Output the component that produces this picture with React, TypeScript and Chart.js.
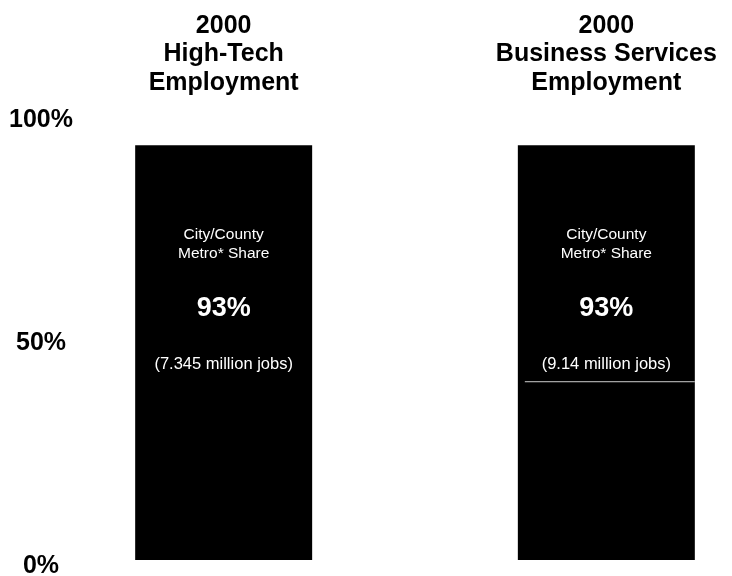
import React, { useEffect, useRef } from "react";
import { Chart, registerables } from "chart.js";

Chart.register(...registerables);

// ---- data ----
const categories: string[][] = [
  ["2000", "High-Tech", "Employment"],
  ["2000", "Business Services", "Employment"],
];
const shareValues: number[] = [93, 93];
const shareLabels: string[] = ["93%", "93%"];
const jobsLabels: string[] = ["(7.345 million jobs)", "(9.14 million jobs)"];
const innerTitle: string[] = ["City/County", "Metro* Share"];
const yTickValues: number[] = [0, 50, 100];
const showDivider: boolean[] = [false, true];

const FONT = "'Liberation Sans', Arial, Helvetica, sans-serif";

export default function App() {
  const ref = useRef<HTMLCanvasElement | null>(null);

  useEffect(() => {
    if (!ref.current) return;
    // build labels with a spacer category between the two bars
    const labels: (string | string[])[] = [categories[0], "", categories[1]];
    const values: (number | null)[] = [shareValues[0], null, shareValues[1]];
    const barIndexToSeries: Record<number, number> = { 0: 0, 2: 1 };

    const textPlugin = {
      id: "barText",
      afterDatasetsDraw(chart: any) {
        const ctx = chart.ctx;
        const meta = chart.getDatasetMeta(0);
        meta.data.forEach((el: any, i: number) => {
          const s = barIndexToSeries[i];
          if (s === undefined) return;
          const { x, y, width } = el.getProps(["x", "y", "width"], true);
          ctx.save();
          ctx.fillStyle = "#ffffff";
          ctx.textAlign = "center";
          ctx.textBaseline = "middle";
          ctx.font = `15.5px ${FONT}`;
          ctx.fillText(innerTitle[0], x, y + 89);
          ctx.fillText(innerTitle[1], x, y + 108);
          ctx.font = `bold 27px ${FONT}`;
          ctx.fillText(shareLabels[s], x, y + 163);
          ctx.font = `16.5px ${FONT}`;
          ctx.fillText(jobsLabels[s], x, y + 219);
          if (showDivider[s]) {
            ctx.strokeStyle = "#cfcfcf";
            ctx.lineWidth = 1;
            ctx.beginPath();
            ctx.moveTo(x - width / 2 + 7, y + 236.5);
            ctx.lineTo(x + width / 2, y + 236.5);
            ctx.stroke();
          }
          ctx.restore();
        });
      },
    };

    const chart = new Chart(ref.current, {
      type: "bar",
      data: {
        labels,
        datasets: [
          {
            data: values,
            backgroundColor: "#000000",
            borderWidth: 0,
            barPercentage: 0.925,
            categoryPercentage: 1,
          },
        ],
      },
      options: {
        animation: false,
        responsive: false,
        devicePixelRatio: 1,
        layout: { padding: { left: 0, right: 30, top: 0, bottom: 16 } },
        plugins: {
          legend: { display: false },
          tooltip: { enabled: false },
        },
        scales: {
          x: {
            position: "top",
            offset: true,
            grid: { display: false, drawTicks: false },
            border: { display: false },
            ticks: {
              color: "#000000",
              font: { family: FONT, size: 25, weight: "bold", lineHeight: 1.14 },
              padding: 17,
              autoSkip: false,
              maxRotation: 0,
              minRotation: 0,
            },
            afterFit(scale: any) {
              scale.height = 114;
              scale.paddingLeft = 0;
              scale.paddingRight = 0;
            },
          },
          y: {
            min: 0,
            max: 100,
            grid: { display: false, drawTicks: false },
            border: { display: false },
            afterBuildTicks(scale: any) {
              scale.ticks = yTickValues.map((v) => ({ value: v }));
            },
            ticks: {
              color: "#000000",
              font: { family: FONT, size: 25, weight: "bold" },
              crossAlign: "center",
              padding: 55,
              labelOffset: 6,
              callback: (v: any) => `${v}%`,
            },
            afterFit(scale: any) {
              scale.width = 128;
              scale.paddingTop = 0;
              scale.paddingBottom = 0;
            },
          },
        },
      },
      plugins: [textPlugin],
    });
    return () => chart.destroy();
  }, []);

  return (
    <div style={{ position: "absolute", left: 0, top: 0, width: 732, height: 576, background: "#fff" }}>
      <canvas ref={ref} width={732} height={576} style={{ width: 732, height: 576, display: "block" }} />
    </div>
  );
}
